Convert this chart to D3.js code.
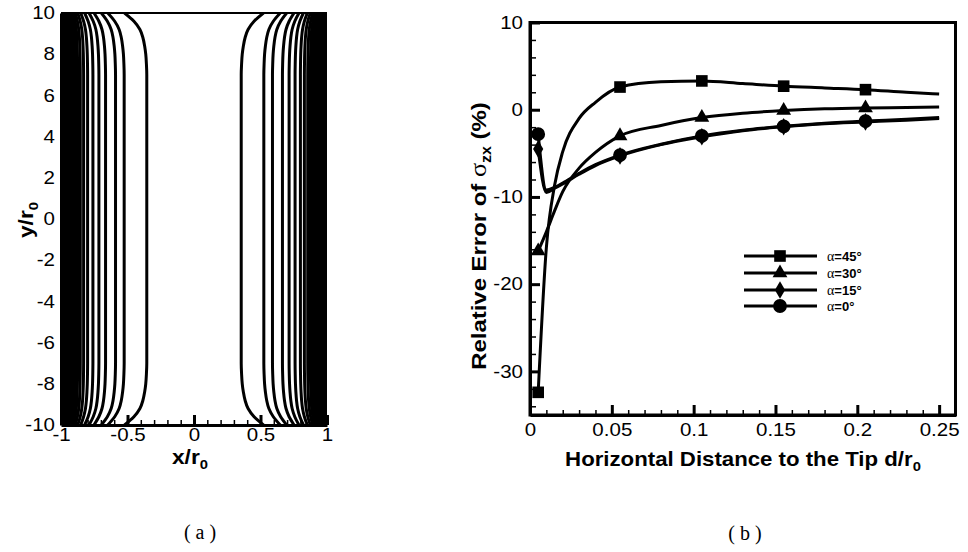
<!DOCTYPE html>
<html>
<head>
<meta charset="utf-8">
<script src="https://cdn.jsdelivr.net/npm/d3@7/dist/d3.min.js"></script>
<style>
  html, body { margin: 0; padding: 0; background: #fff; }
  svg { display: block; }
  text { fill: #000; }
</style>
</head>
<body>
<svg id="fig" width="968" height="552"></svg>
<script>
// ---------- panel (a): contour lines of the stress field ----------
// mid-height |x/r0| position of each contour line (mirrored on both sides)
const contourLevels = [0.355, 0.525, 0.59, 0.665, 0.715, 0.76, 0.80, 0.83, 0.855,
                       0.875, 0.89, 0.90, 0.91, 0.92, 0.93, 0.94, 0.95, 0.96, 0.97, 0.98, 0.99, 1.0];
// outward bending of the contours near the ends (|y/r0| vs. fraction of the gap to |x|=1)
const bendY    = [7.0, 7.5, 8.0, 8.4, 8.8, 9.2, 9.6, 10.0];
const bendFrac = [0.0, 0.004, 0.012, 0.025, 0.045, 0.08, 0.15, 0.26];
const aTicksX = [-1, -0.5, 0, 0.5, 1];
const aTickLabelsX = ["-1", "-0.5", "0", "0.5", "1"];
const aTicksY = [-10, -8, -6, -4, -2, 0, 2, 4, 6, 8, 10];
const aTickLabelsY = ["-10", "-8", "-6", "-4", "-2", "0", "2", "4", "6", "8", "10"];

// ---------- panel (b): relative error of sigma_zx ----------
const distance = [0.005, 0.01, 0.015, 0.02, 0.03, 0.04, 0.055, 0.08, 0.105, 0.13, 0.155, 0.18, 0.205, 0.23, 0.25];
const err45 = [-32.4, -15.8, -8.7, -4.8, -1.0, 0.85, 2.6, 3.2, 3.3, 3.0, 2.7, 2.5, 2.3, 2.0, 1.8];
const err30 = [-16.2, -14.0, -11.6, -9.4, -6.7, -4.9, -3.0, -1.8, -0.9, -0.4, -0.1, 0.1, 0.2, 0.25, 0.3];
const err15 = [-4.5, -9.5, -9.0, -8.5, -7.4, -6.4, -5.3, -4.0, -3.1, -2.4, -1.95, -1.6, -1.4, -1.2, -1.0];
const err0  = [-2.8, -9.2, -8.9, -8.4, -7.3, -6.3, -5.2, -3.95, -3.0, -2.35, -1.9, -1.55, -1.3, -1.1, -0.9];
const markerIndex = [0, 6, 8, 10, 12];
const seriesNames = ["=45°", "=30°", "=15°", "=0°"];
const seriesSymbols = ["square", "triangle", "diamond", "circle"];
const bTicksX = [0, 0.05, 0.1, 0.15, 0.2, 0.25];
const bTickLabelsX = ["0", "0.05", "0.1", "0.15", "0.2", "0.25"];
const bTicksY = [-30, -20, -10, 0, 10];
const bTickLabelsY = ["-30", "-20", "-10", "0", "10"];

const SANS = "'Liberation Sans', Arial, sans-serif";
const SERIF = "'Liberation Serif', 'Times New Roman', serif";
const S = 1.14;          // horizontal stretch of the sans-serif lettering

const svg = d3.select("#fig");
svg.append("rect").attr("width", 968).attr("height", 552).attr("fill", "#fff");

function stretchTicks(g) {
  g.selectAll("text").each(function () {
    const t = d3.select(this);
    const x = +(t.attr("x") || 0);
    t.attr("x", x / S).attr("transform", `scale(${S},1)`);
  });
}
function label(parent, x, y, rot) {
  return parent.append("text")
    .attr("transform", `translate(${x},${y})` + (rot ? ` rotate(${rot})` : "") + ` scale(${S},1)`)
    .attr("text-anchor", "middle")
    .attr("font-family", SANS);
}

// ===================== panel (a) =====================
const ax = d3.scaleLinear().domain([-1, 1]).range([61, 327]);
const ay = d3.scaleLinear().domain([-10, 10]).range([425, 13]);
const pa = svg.append("g");

pa.append("clipPath").attr("id", "clipA")
  .append("rect").attr("x", ax(-1)).attr("y", ay(10)).attr("width", ax(1) - ax(-1)).attr("height", ay(-10) - ay(10));

const bend = d3.scaleLinear().domain(bendY).range(bendFrac).clamp(true);
const profileY = bendY.map(v => -v).reverse().concat(bendY);
const contourLine = d3.line().x(d => ax(d[0])).y(d => ay(d[1])).curve(d3.curveMonotoneY);

const cg = pa.append("g").attr("clip-path", "url(#clipA)");
contourLevels.forEach(c => {
  [-1, 1].forEach(side => {
    const pts = profileY.map(y => [side * (c + (1 - c) * bend(Math.abs(y))), y]);
    cg.append("path").attr("d", contourLine(pts))
      .attr("fill", "none").attr("stroke", "#000").attr("stroke-width", 3);
  });
});

// frame top
pa.append("line").attr("x1", ax(-1)).attr("x2", ax(1)).attr("y1", ay(10)).attr("y2", ay(10))
  .attr("stroke", "#000").attr("stroke-width", 2);

// bottom axis
const aMinor = d3.range(-9, 10).map(v => v / 10).filter(v => !aTicksX.includes(v));
pa.append("g").attr("transform", `translate(0,${ay(-10)})`)
  .call(d3.axisBottom(ax).tickValues(aMinor).tickSizeInner(-5).tickSizeOuter(0).tickFormat(""))
  .call(g => g.select(".domain").remove())
  .call(g => g.selectAll("line").attr("stroke-width", 1.5));
const aBottom = pa.append("g").attr("transform", `translate(0,${ay(-10)})`)
  .call(d3.axisBottom(ax).tickValues(aTicksX).tickSizeInner(-10).tickSizeOuter(0).tickPadding(3)
        .tickFormat((d, i) => aTickLabelsX[i]))
  .call(g => g.select(".domain").attr("stroke-width", 3))
  .call(g => g.selectAll("line").attr("stroke-width", 3))
  .call(g => g.selectAll("text").attr("font-family", SANS).attr("font-size", 18).attr("fill", "#000"));
stretchTicks(aBottom);

// left axis
const aLeft = pa.append("g").attr("transform", `translate(${ax(-1)},0)`)
  .call(d3.axisLeft(ay).tickValues(aTicksY).tickSizeInner(0).tickSizeOuter(0).tickPadding(6)
        .tickFormat((d, i) => aTickLabelsY[i]))
  .call(g => g.select(".domain").attr("stroke-width", 3))
  .call(g => g.selectAll("text").attr("font-family", SANS).attr("font-size", 18).attr("fill", "#000"));
stretchTicks(aLeft);

// axis titles
const axT = label(pa, 190, 464).attr("font-size", 20).attr("font-weight", "bold");
axT.append("tspan").text("x/r");
axT.append("tspan").attr("font-size", 13).attr("dy", 5).text("0");

const ayT = label(pa, 33, 220, -90).attr("font-size", 20).attr("font-weight", "bold");
ayT.append("tspan").text("y/r");
ayT.append("tspan").attr("font-size", 13).attr("dy", 5).text("0");

svg.append("text").attr("x", 200).attr("y", 539).attr("text-anchor", "middle")
  .attr("font-family", SERIF).attr("font-size", 20).attr("xml:space", "preserve").text("( a )");

// ===================== panel (b) =====================
const bx = d3.scaleLinear().domain([0, 0.26]).range([530, 955.5]);
const by = d3.scaleLinear().domain([-35, 10]).range([415, 22.5]);
const pb = svg.append("g");

// frame
pb.append("rect").attr("x", bx(0)).attr("y", by(10)).attr("width", bx(0.26) - bx(0)).attr("height", by(-35) - by(10))
  .attr("fill", "none").attr("stroke", "#000").attr("stroke-width", 3);

// x axis ticks
const bMinorX = d3.range(1, 26).map(v => v / 100).filter(v => Math.round(v * 100) % 5 !== 0);
pb.append("g").attr("transform", `translate(0,${by(-35)})`)
  .call(d3.axisBottom(bx).tickValues(bMinorX).tickSizeInner(-5).tickSizeOuter(0).tickFormat(""))
  .call(g => g.select(".domain").remove())
  .call(g => g.selectAll("line").attr("stroke-width", 1.5));
const bBottom = pb.append("g").attr("transform", `translate(0,${by(-35)})`)
  .call(d3.axisBottom(bx).tickValues(bTicksX).tickSizeInner(-10).tickSizeOuter(0).tickPadding(8)
        .tickFormat((d, i) => bTickLabelsX[i]))
  .call(g => g.select(".domain").attr("stroke-width", 3))
  .call(g => g.selectAll("line").attr("stroke-width", 3))
  .call(g => g.selectAll("text").attr("font-family", SANS).attr("font-size", 18).attr("fill", "#000"));
stretchTicks(bBottom);

// y axis ticks
const bMinorY = d3.range(-34, 10, 2).filter(v => v % 10 !== 0);
pb.append("g").attr("transform", `translate(${bx(0)},0)`)
  .call(d3.axisLeft(by).tickValues(bMinorY).tickSizeInner(-6).tickSizeOuter(0).tickFormat(""))
  .call(g => g.select(".domain").remove())
  .call(g => g.selectAll("line").attr("stroke-width", 1.5));
const bLeft = pb.append("g").attr("transform", `translate(${bx(0)},0)`)
  .call(d3.axisLeft(by).tickValues(bTicksY).tickSizeInner(-10).tickSizeOuter(0).tickPadding(7)
        .tickFormat((d, i) => bTickLabelsY[i]))
  .call(g => g.select(".domain").attr("stroke-width", 3))
  .call(g => g.selectAll("line").attr("stroke-width", 3))
  .call(g => g.selectAll("text").attr("font-family", SANS).attr("font-size", 18).attr("fill", "#000"));
stretchTicks(bLeft);

// markers
const symbolGen = {
  square: d3.symbol(d3.symbolSquare, 135),
  triangle: d3.symbol(d3.symbolTriangle, 95),
  diamond: d3.symbol(d3.symbolDiamond, 90),
  circle: d3.symbol(d3.symbolCircle, 150)
};

// series curves
const allSeries = [err45, err30, err15, err0];
const curve = d3.line().x(d => bx(d[0])).y(d => by(d[1])).curve(d3.curveMonotoneX);
allSeries.forEach((vals, k) => {
  const pts = distance.map((d, i) => [d, vals[i]]);
  pb.append("path").attr("d", curve(pts)).attr("fill", "none")
    .attr("stroke", "#000").attr("stroke-width", 3).attr("stroke-linejoin", "round");
  pb.append("g").selectAll("path").data(markerIndex).join("path")
    .attr("d", symbolGen[seriesSymbols[k]]())
    .attr("transform", i => `translate(${bx(distance[i])},${by(vals[i])})`)
    .attr("fill", "#000");
});

// legend
const legY = [256, 273, 290, 306];
const leg = pb.append("g");
seriesNames.forEach((name, k) => {
  leg.append("line").attr("x1", 744).attr("x2", 817).attr("y1", legY[k]).attr("y2", legY[k])
    .attr("stroke", "#000").attr("stroke-width", 3);
  leg.append("path").attr("d", symbolGen[seriesSymbols[k]]())
    .attr("transform", `translate(780,${legY[k]})`).attr("fill", "#000");
  const t = leg.append("text").attr("x", 827).attr("y", legY[k] + 4.5).attr("font-size", 13);
  t.append("tspan").attr("font-family", SERIF).attr("font-size", 14).text("α");
  t.append("tspan").attr("font-family", SANS).attr("font-weight", "bold").text(name);
});

// axis titles
const bxT = label(pb, 743, 466).attr("font-size", 19.5).attr("font-weight", "bold");
bxT.append("tspan").text("Horizontal Distance to the Tip d/r");
bxT.append("tspan").attr("font-size", 13).attr("dy", 5).text("0");

const byT = label(pb, 486, 236, -90).attr("font-size", 21).attr("font-weight", "bold");
byT.append("tspan").text("Relative Error of ");
byT.append("tspan").attr("font-family", SERIF).attr("font-weight", "normal").attr("font-size", 23).text("σ");
byT.append("tspan").attr("font-size", 14).attr("dy", 5).text("zx");
byT.append("tspan").attr("dy", -5).text(" (%)");

svg.append("text").attr("x", 745).attr("y", 540).attr("text-anchor", "middle")
  .attr("font-family", SERIF).attr("font-size", 20).attr("xml:space", "preserve").text("( b )");
</script>
</body>
</html>
